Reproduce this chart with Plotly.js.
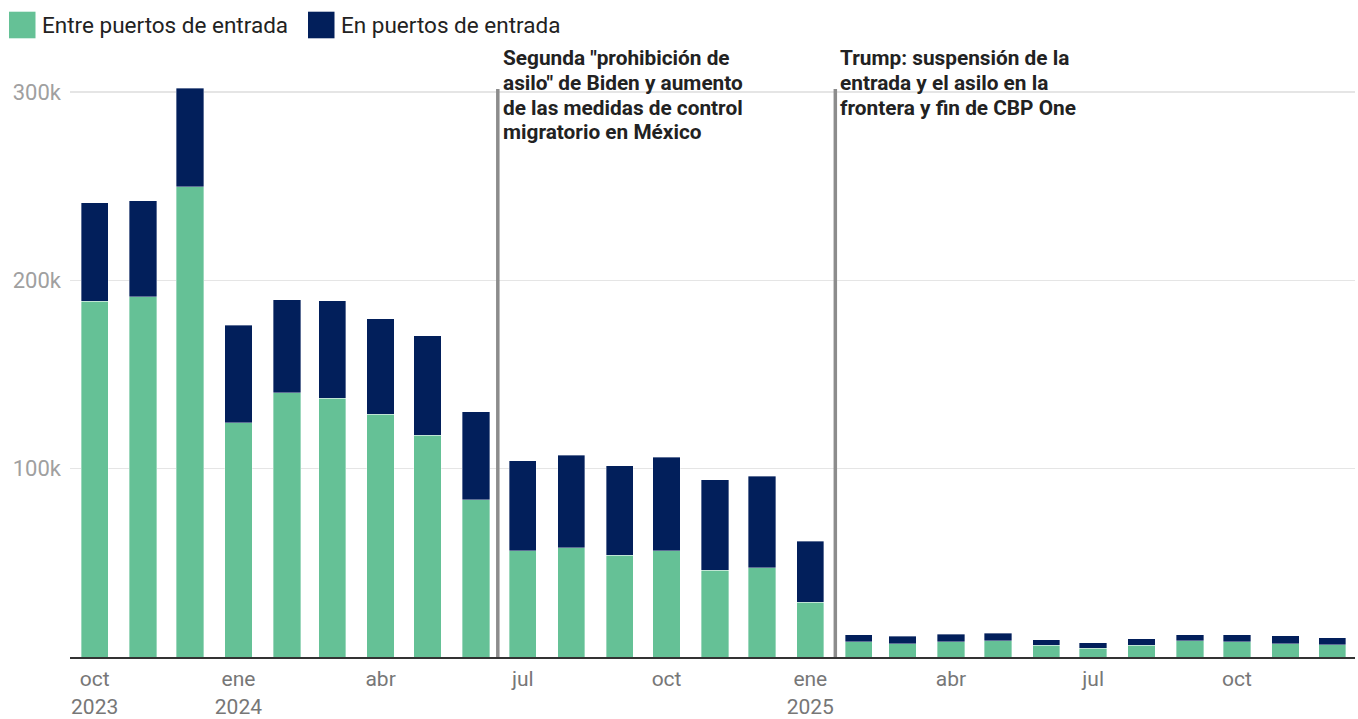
<!DOCTYPE html>
<html>
<head>
<meta charset="utf-8">
<script src="https://cdn.plot.ly/plotly-3.0.1.min.js"></script>
<style>
  html, body { margin: 0; padding: 0; background: #ffffff; }
  #chart { width: 1358px; height: 719px; }
</style>
</head>
<body>
<div id="chart"></div>
<script>
// ---- Data ----
const months = [
  '2023-10-01','2023-11-01','2023-12-01',
  '2024-01-01','2024-02-01','2024-03-01','2024-04-01','2024-05-01','2024-06-01',
  '2024-07-01','2024-08-01','2024-09-01','2024-10-01','2024-11-01','2024-12-01',
  '2025-01-01','2025-02-01','2025-03-01','2025-04-01','2025-05-01','2025-06-01',
  '2025-07-01','2025-08-01','2025-09-01','2025-10-01','2025-11-01','2025-12-01'
];
const seriesNames = ['Entre puertos de entrada', 'En puertos de entrada'];
// Between ports of entry
const entrePuertos = [
  188800, 191200, 249600,
  124300, 140400, 137300, 128800, 117700, 83500,
  56300, 57900, 54000, 56300, 46200, 47300,
  29200, 8000, 7100, 8100, 8500, 6200,
  4600, 6200, 8500, 8000, 7100, 6400
];
// At ports of entry
const enPuertos = [
  52300, 51000, 52400,
  51800, 49300, 51900, 50900, 52800, 46800,
  47800, 49200, 47600, 49900, 47800, 48800,
  32200, 3800, 3800, 4100, 4000, 3000,
  3000, 3400, 3200, 3700, 4100, 3700
];
const xTickVals = ['2023-10-01','2024-01-01','2024-04-01','2024-07-01','2024-10-01',
                   '2025-01-01','2025-04-01','2025-07-01','2025-10-01'];
const xTickText = ['oct<br>2023','ene<br>2024','abr','jul','oct','ene<br>2025','abr','jul','oct'];
const yTickVals = [100000, 200000, 300000];
const yTickText = ['100k', '200k', '300k'];
const eventDates = ['2024-06-15', '2025-01-17'];
const eventLines = [
  ['Segunda "prohibición de', 'asilo" de Biden y aumento', 'de las medidas de control', 'migratorio en México'],
  ['Trump: suspensión de la', 'entrada y el asilo en la', 'frontera y fin de CBP One']
];

// ---- Styling ----
const W = 1358, H = 719;
const M = { l: 70, r: 3, t: 80, b: 62 };
const colors = ['#65c196', '#021f5b'];
const barWidthMs = 17.5 * 86400000;

const plotW = W - M.l - M.r, plotH = H - M.t - M.b;
const px = x => (x - M.l) / plotW;           // pixel x -> paper x
const py = y => (H - M.b - y) / plotH;       // pixel y -> paper y

const traces = [entrePuertos, enPuertos].map((vals, i) => ({
  type: 'bar',
  name: seriesNames[i],
  x: months,
  y: vals,
  width: months.map(() => barWidthMs),
  marker: { color: colors[i], line: { color: 'rgba(255,255,255,0.45)', width: 0.8 } },
  hoverinfo: 'x+y+name',
  showlegend: false
}));

const shapes = [];
const annotations = [];

// event lines + labels (one annotation per text line for tight leading)
eventDates.forEach((d, i) => {
  shapes.push({
    type: 'line', xref: 'x', yref: 'y',
    x0: d, x1: d, y0: 0, y1: 301600,
    line: { color: '#8c8c8c', width: 3.5 },
    layer: 'above'
  });
  eventLines[i].forEach((ln, j) => {
    annotations.push({
      xref: 'x', yref: 'paper', x: d, y: py(58.3 + j * 24.7),
      xanchor: 'left', yanchor: 'middle', xshift: 4,
      align: 'left', showarrow: false, borderpad: 0,
      text: ln,
      font: { family: 'Roboto, sans-serif', size: 20.8, color: '#222222', weight: 'bold' }
    });
  });
});

// custom legend
const legendItems = [
  { x0: 9, x1: 35.5, tx: 41 },
  { x0: 308, x1: 334.5, tx: 340 }
];
legendItems.forEach((it, i) => {
  shapes.push({
    type: 'rect', xref: 'paper', yref: 'paper',
    x0: px(it.x0), x1: px(it.x1), y0: py(38.3), y1: py(11.7),
    fillcolor: colors[i], line: { width: 0 }
  });
  annotations.push({
    xref: 'paper', yref: 'paper', x: px(it.tx), y: py(25),
    xanchor: 'left', yanchor: 'middle', showarrow: false, borderpad: 0,
    text: seriesNames[i],
    font: { family: 'Roboto, sans-serif', size: 22.5, color: '#222222' }
  });
});

const layout = {
  width: W, height: H,
  margin: M,
  paper_bgcolor: '#ffffff',
  plot_bgcolor: '#ffffff',
  font: { family: 'Roboto, sans-serif', size: 20, color: '#333333' },
  barmode: 'stack',
  showlegend: false,
  xaxis: {
    type: 'date',
    range: ['2023-09-15 05:00', '2025-12-15 14:00'],
    tickvals: xTickVals,
    ticktext: xTickText,
    tickfont: { size: 21, color: '#777777' },
    ticks: '',
    ticklabelstandoff: 2,
    showgrid: false,
    zeroline: false,
    showline: true,
    linecolor: '#333333',
    linewidth: 2,
    fixedrange: true
  },
  yaxis: {
    range: [0, 306400],
    tickvals: yTickVals,
    ticktext: yTickText,
    tickfont: { size: 22, color: '#a0a0a0' },
    ticks: '',
    ticklabelstandoff: 8,
    showgrid: true,
    gridcolor: '#e5e5e5',
    gridwidth: 1.5,
    zeroline: false,
    showline: false,
    fixedrange: true
  },
  shapes: shapes,
  annotations: annotations
};

Plotly.newPlot('chart', traces, layout, { displayModeBar: false, staticPlot: true });
</script>
</body>
</html>
